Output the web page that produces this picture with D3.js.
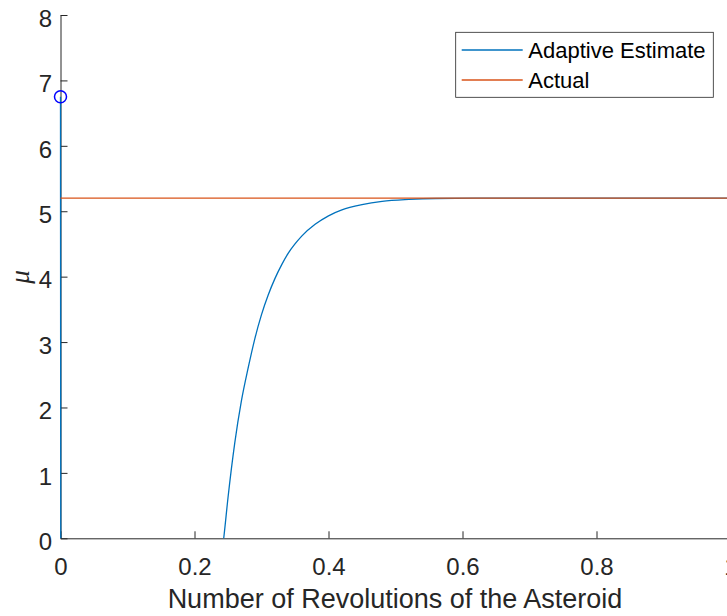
<!DOCTYPE html>
<html>
<head>
<meta charset="utf-8">
<script src="https://cdn.jsdelivr.net/npm/d3@7"></script>
<style>
  body { margin: 0; background: #fff; }
  svg { display: block; font-family: "Liberation Sans", Arial, sans-serif; }
</style>
</head>
<body>
<div id="chart"></div>
<script>
const width = 727;
const height = 616;

// data
const revs = [0, 0.001, 0.23, 0.2436, 0.25, 0.26, 0.27, 0.28, 0.29, 0.30, 0.31, 0.32, 0.33, 0.34, 0.35,
  0.36, 0.38, 0.40, 0.42, 0.45, 0.48, 0.52, 0.56, 0.62, 0.8, 1.0];
const muEstimate = [6.75, -8, -0.85, 0, 0.62, 1.45, 2.1, 2.6, 3.05, 3.42, 3.72, 3.97, 4.18, 4.36, 4.5,
  4.62, 4.8, 4.93, 5.02, 5.1, 5.15, 5.18, 5.195, 5.2, 5.2, 5.2];
const actualRevs = [0, 1];
const muActual = [5.2, 5.2];
const startPoint = [0, 6.75];
const xTicks = [0, 0.2, 0.4, 0.6, 0.8, 1];
const yTicks = [0, 1, 2, 3, 4, 5, 6, 7, 8];
const legendLabels = ["Adaptive Estimate", "Actual"];
const colors = ["#0072BD", "#D95319"];

const mLeft = 60.5, mRight = 730.5, mTop = 15, mBottom = 538.3;

const svg = d3.select("#chart").append("svg")
  .attr("width", width).attr("height", height);

const x = d3.scaleLinear().domain([0, 1]).range([mLeft, mRight]);
const y = d3.scaleLinear().domain([0, 8]).range([mBottom, mTop]);

// eixos
const xAxis = svg.append("g")
  .attr("transform", `translate(0,${mBottom})`)
  .call(d3.axisBottom(x).tickValues(xTicks).tickFormat(d3.format("")).tickSize(-7).tickSizeOuter(0).tickPadding(19.7));

const yAxis = svg.append("g")
  .attr("transform", `translate(${mLeft},0)`)
  .call(d3.axisLeft(y).tickValues(yTicks).tickSize(-7).tickSizeOuter(0).tickPadding(8.5));

[xAxis, yAxis].forEach(g => {
  g.select(".domain").attr("stroke", "#262626").attr("stroke-width", 1);
  g.selectAll(".tick line").attr("stroke", "#262626").attr("stroke-width", 1);
  g.selectAll(".tick text").attr("fill", "#262626").style("font-size", "24px")
    .style("font-family", "Liberation Sans, Arial, sans-serif");
});
yAxis.selectAll(".tick text").attr("dy", "0.47em");

// titulos dos eixos
svg.append("text")
  .attr("x", 395)
  .attr("y", 608)
  .attr("text-anchor", "middle")
  .attr("fill", "#262626")
  .style("font-size", "27px")
  .text("Number of Revolutions of the Asteroid");

svg.append("text")
  .attr("transform", "translate(29,277) rotate(-90)")
  .attr("text-anchor", "middle")
  .attr("fill", "#262626")
  .style("font-size", "27px")
  .style("font-family", "Liberation Serif, serif")
  .style("font-style", "italic")
  .text("μ");

svg.append("clipPath").attr("id", "clip")
  .append("rect").attr("x", mLeft - 2).attr("y", mTop - 2)
  .attr("width", mRight - mLeft + 4).attr("height", mBottom - mTop + 2);

const line = d3.line().x(d => x(d[0])).y(d => y(d[1])).curve(d3.curveMonotoneX);
const plot = svg.append("g").attr("clip-path", "url(#clip)");

plot.append("path")
  .datum(revs.map((r, i) => [r, muEstimate[i]]))
  .attr("fill", "none").attr("stroke", colors[0]).attr("stroke-width", 1.3)
  .attr("d", line);

plot.append("path")
  .datum(actualRevs.map((r, i) => [r, muActual[i]]))
  .attr("fill", "none").attr("stroke", colors[1]).attr("stroke-width", 1.3)
  .attr("d", line);

svg.append("circle")
  .attr("cx", x(startPoint[0])).attr("cy", y(startPoint[1])).attr("r", 6)
  .attr("fill", "none").attr("stroke", "#0000ff").attr("stroke-width", 1.5);

// legenda
const legend = svg.append("g");
legend.append("rect")
  .attr("x", 455.7).attr("y", 32.3).attr("width", 257.6).attr("height", 65)
  .attr("fill", "#fff").attr("stroke", "#262626").attr("stroke-width", 0.8);

legendLabels.forEach((lab, i) => {
  const ly = 50 + i * 30;
  legend.append("line")
    .attr("x1", 461.7).attr("x2", 522.7).attr("y1", ly).attr("y2", ly)
    .attr("stroke", colors[i]).attr("stroke-width", 1.3);
  legend.append("text")
    .attr("x", 528.3).attr("y", ly).attr("dy", "0.35em")
    .attr("fill", "#000")
    .style("font-size", "22px")
    .text(lab);
});
</script>
</body>
</html>
